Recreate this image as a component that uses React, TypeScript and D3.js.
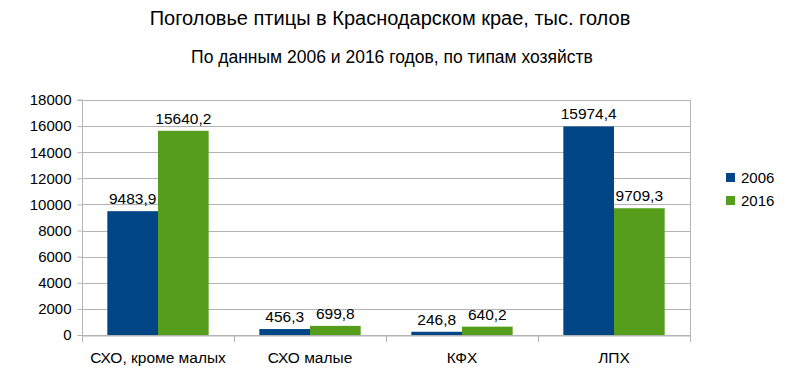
import React, { useRef, useEffect } from 'react';
import * as d3 from 'd3';

const categories = ['СХО, кроме малых', 'СХО малые', 'КФХ', 'ЛПХ'];
const seriesNames = ['2006', '2016'];
const values2006 = [9483.9, 456.3, 246.8, 15974.4];
const values2016 = [15640.2, 699.8, 640.2, 9709.3];
const yTicks = [0, 2000, 4000, 6000, 8000, 10000, 12000, 14000, 16000, 18000];
const colors = ['#004586', '#579d1c'];

const fmt = (v: number) => v.toFixed(1).replace('.', ',');

const App = () => {
    const svgRef = useRef<SVGSVGElement>(null);

    useEffect(() => {
        const svg = d3.select(svgRef.current);
        svg.selectAll('*').remove();
        const width = 800;
        const height = 385;
        const margin = { top: 100, right: 110, bottom: 50, left: 82 };
        const font = 'Liberation Sans, Arial, sans-serif';

        svg.attr('width', width).attr('height', height).style('font-family', font);
        svg.append('rect').attr('width', width).attr('height', height).attr('fill', '#fff');

        const x = d3.scaleBand()
            .domain(categories)
            .range([margin.left, width - margin.right])
            .paddingInner(0)
            .paddingOuter(0);

        const xs = d3.scaleBand()
            .domain(seriesNames)
            .range([0, x.bandwidth()])
            .paddingOuter(0.5)
            .paddingInner(0);

        const y = d3.scaleLinear()
            .domain([0, 18000])
            .range([height - margin.bottom, margin.top]);

        // grid
        svg.append('g')
            .selectAll('line')
            .data(yTicks)
            .join('line')
            .attr('x1', margin.left)
            .attr('x2', width - margin.right)
            .attr('y1', d => Math.round(y(d)) + 0.5)
            .attr('y2', d => Math.round(y(d)) + 0.5)
            .attr('stroke', '#b3b3b3')
            .attr('stroke-width', 1);

        // right border
        svg.append('line')
            .attr('x1', width - margin.right + 0.5)
            .attr('x2', width - margin.right + 0.5)
            .attr('y1', y(18000))
            .attr('y2', y(0) + 7)
            .attr('stroke', '#b3b3b3');

        const data = categories.map((c, i) => ({ c, vals: [values2006[i], values2016[i]] }));

        const groups = svg.append('g')
            .selectAll('g')
            .data(data)
            .join('g')
            .attr('transform', d => `translate(${x(d.c)},0)`);

        groups.selectAll('rect')
            .data(d => d.vals.map((v, i) => ({ v, s: seriesNames[i], i })))
            .join('rect')
            .attr('x', d => xs(d.s)!)
            .attr('width', xs.bandwidth())
            .attr('y', d => y(d.v))
            .attr('height', d => y(0) - y(d.v))
            .attr('fill', d => colors[d.i]);

        groups.selectAll('text')
            .data(d => d.vals.map((v, i) => ({ v, s: seriesNames[i] })))
            .join('text')
            .attr('x', d => xs(d.s)! + xs.bandwidth() / 2)
            .attr('y', d => y(d.v) - 7)
            .attr('text-anchor', 'middle')
            .attr('font-size', 15.5)
            .attr('fill', '#000')
            .text(d => fmt(d.v));

        // x axis
        const xAxis = svg.append('g')
            .attr('transform', `translate(0,${Math.round(y(0)) + 0.5})`)
            .call(d3.axisBottom(x).tickSize(0).tickPadding(16));
        xAxis.select('.domain').attr('stroke', '#b3b3b3');
        xAxis.selectAll('text').attr('font-size', 15.5).attr('font-family', font).attr('fill', '#000');
        svg.append('g')
            .selectAll('line')
            .data([...categories.map(c => x(c)!), width - margin.right])
            .join('line')
            .attr('x1', d => Math.round(d) + 0.5)
            .attr('x2', d => Math.round(d) + 0.5)
            .attr('y1', y(0))
            .attr('y2', y(0) + 7)
            .attr('stroke', '#b3b3b3');

        // y axis
        const yAxis = svg.append('g')
            .attr('transform', `translate(${margin.left + 0.5},0)`)
            .call(d3.axisLeft(y).tickValues(yTicks).tickSize(5).tickPadding(6).tickFormat(d => String(d)));
        yAxis.select('.domain').attr('stroke', '#b3b3b3').attr('d', `M-5,${y(18000)}H0V${y(0) + 7}`);
        yAxis.selectAll('.tick line').attr('stroke', '#b3b3b3');
        yAxis.selectAll('text').attr('font-size', 15).attr('font-family', font).attr('fill', '#000');

        // titles
        svg.append('text')
            .attr('x', 390).attr('y', 25)
            .attr('text-anchor', 'middle')
            .attr('font-size', 20)
            .text('Поголовье птицы в Краснодарском крае, тыс. голов');
        svg.append('text')
            .attr('x', 392).attr('y', 63)
            .attr('text-anchor', 'middle')
            .attr('font-size', 17.5)
            .text('По данным 2006 и 2016 годов, по типам хозяйств');

        // legend
        const legend = svg.append('g')
            .selectAll('g')
            .data(seriesNames)
            .join('g')
            .attr('transform', (d, i) => `translate(726,${173 + i * 23})`);
        legend.append('rect')
            .attr('width', 9).attr('height', 9)
            .attr('fill', (d, i) => colors[i]);
        legend.append('text')
            .attr('x', 15).attr('y', 10)
            .attr('font-size', 15)
            .text(d => d);
    }, []);

    return <svg ref={svgRef} style={{ position: 'absolute', left: 0, top: 0 }}></svg>;
};

export default App;
